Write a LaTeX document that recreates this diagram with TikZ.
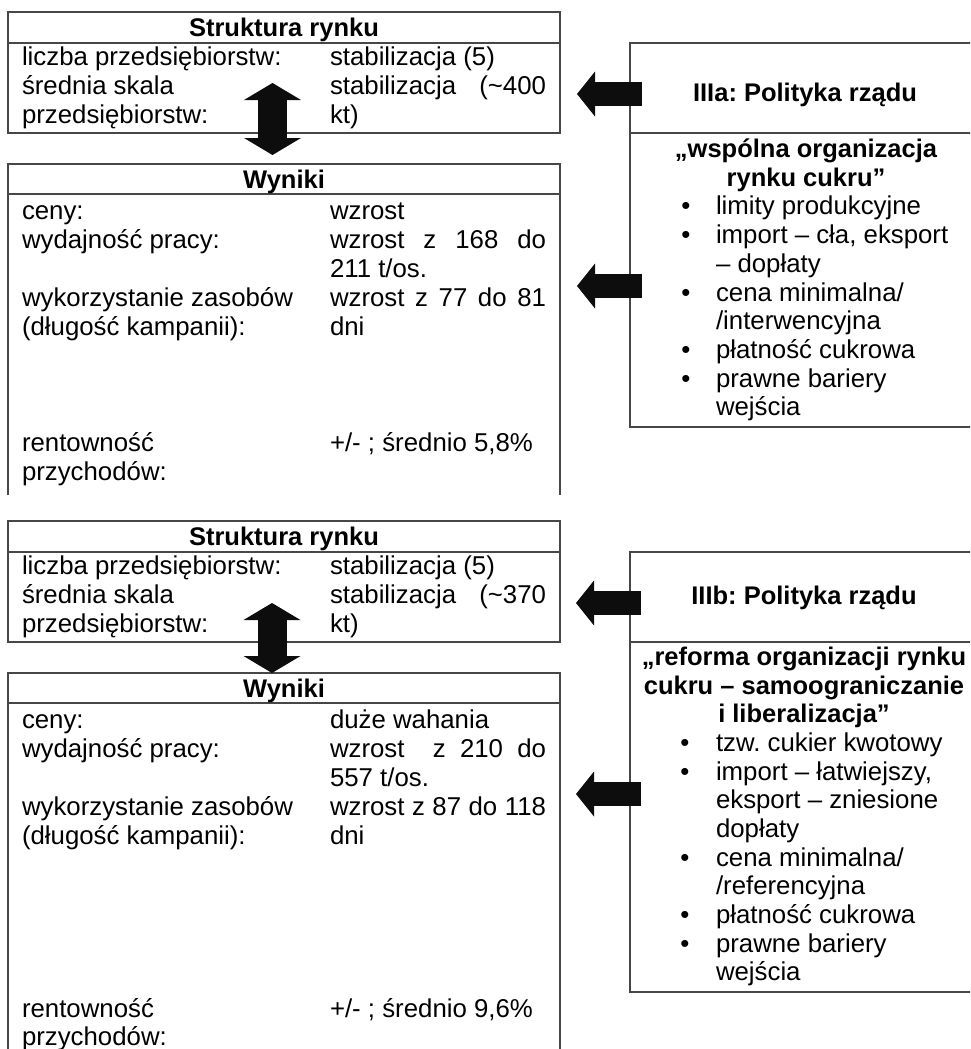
\documentclass[tikz,border=0pt]{standalone}
\usepackage{fontspec}
\setmainfont{Liberation Sans}
\usetikzlibrary{arrows.meta}
\frenchspacing
\begin{document}
\begin{tikzpicture}[x=0.5pt,y=-0.5pt,
  boxline/.style={draw=black!72, line width=0.8pt},
  txt/.style={inner sep=0pt, outer sep=0pt, anchor=base west, font=\fontsize{12.9pt}{15pt}\selectfont\frenchspacing},
  ctr/.style={inner sep=0pt, outer sep=0pt, anchor=base, font=\fontsize{12.75pt}{15pt}\selectfont\bfseries\frenchspacing},
  bul/.style={inner sep=0pt, outer sep=0pt, anchor=base, font=\fontsize{12.9pt}{15pt}\selectfont},
  harrow/.style={line width=12pt, draw=black!95, -{Triangle[width=22.5pt 0 0, length=9pt 0 0, line width=0pt]}},
  varrow/.style={line width=14.5pt, draw=black!95, {Triangle[width=28.5pt 0 0, length=8.5pt 0 0, line width=0pt]}-{Triangle[width=28.5pt 0 0, length=8.5pt 0 0, line width=0pt]}}
]
\useasboundingbox (0,0) rectangle (970,1049);
\clip (0,0) rectangle (970,1049);

% ---------- TOP SECTION ----------
\draw[boxline] (8,12) rectangle (560,133);
\draw[boxline] (8,43) -- (560,43);
\draw[boxline] (8,495) -- (8,164) -- (560,164) -- (560,495);
\draw[boxline] (8,194) -- (560,194);
\draw[boxline] (630,43) rectangle (985,427);
\draw[boxline] (630,133) -- (985,133);

\node[ctr] (s1t) at (284,36) {Struktura rynku};
\node[txt] (s1a) at (22,65) {liczba przedsiębiorstw:};
\node[txt] (s1b) at (330,65) {stabilizacja (5)};
\node[txt] (s1c) at (22,94) {średnia skala};
\node[txt] (s1d) at (330,94) {\makebox[108pt][s]{stabilizacja (\textasciitilde400}};
\node[txt] (s1e) at (22,123) {przedsiębiorstw:};
\node[txt] (s1f) at (330,123) {kt)};

\node[ctr] (w1t) at (284,188) {Wyniki};
\node[txt] (w1a) at (22,219) {ceny:};
\node[txt] (w1b) at (330,219) {wzrost};
\node[txt] (w1c) at (22,248) {wydajność pracy:};
\node[txt] (w1d) at (330,248) {\makebox[108pt][s]{wzrost z 168 do}};
\node[txt] (w1e) at (330,277) {211 t/os.};
\node[txt] (w1f) at (22,306) {wykorzystanie zasobów};
\node[txt] (w1g) at (330,306) {\makebox[108pt][s]{wzrost z 77 do 81}};
\node[txt] (w1h) at (22,335) {(długość kampanii):};
\node[txt] (w1i) at (330,335) {dni};
\node[txt] (w1j) at (22,451) {rentowność};
\node[txt] (w1k) at (330,451) {+/- ; średnio 5,8\%};
\node[txt] (w1l) at (22,480) {przychodów:};

\node[ctr] (p1t) at (805,101) {IIIa: Polityka rządu};
\node[ctr] (p1a) at (806,157) {„wspólna organizacja};
\node[ctr] (p1b) at (806,186) {rynku cukru”};
\node[bul] (p1b1) at (686,214) {•};
\node[txt] (p1c) at (716,214) {limity produkcyjne};
\node[bul] (p1b2) at (686,243) {•};
\node[txt] (p1d) at (716,243) {import – cła, eksport};
\node[txt] (p1e) at (716,272) {– dopłaty};
\node[bul] (p1b3) at (686,301) {•};
\node[txt] (p1f) at (716,301) {cena minimalna/};
\node[txt] (p1g) at (716,329) {/interwencyjna};
\node[bul] (p1b4) at (686,358) {•};
\node[txt] (p1h) at (716,358) {płatność cukrowa};
\node[bul] (p1b5) at (686,387) {•};
\node[txt] (p1i) at (716,387) {prawne bariery};
\node[txt] (p1j) at (716,415) {wejścia};

% ---------- BOTTOM SECTION ----------
\draw[boxline] (8,521) rectangle (560,642);
\draw[boxline] (8,552) -- (560,552);
\draw[boxline] (8,1060) -- (8,673) -- (560,673) -- (560,1060);
\draw[boxline] (8,703) -- (560,703);
\draw[boxline] (630,552) rectangle (985,992);
\draw[boxline] (630,642) -- (985,642);

\node[ctr] (s2t) at (284,545) {Struktura rynku};
\node[txt] (s2a) at (22,574) {liczba przedsiębiorstw:};
\node[txt] (s2b) at (330,574) {stabilizacja (5)};
\node[txt] (s2c) at (22,603) {średnia skala};
\node[txt] (s2d) at (330,603) {\makebox[108pt][s]{stabilizacja (\textasciitilde370}};
\node[txt] (s2e) at (22,632) {przedsiębiorstw:};
\node[txt] (s2f) at (330,632) {kt)};

\node[ctr] (w2t) at (284,697) {Wyniki};
\node[txt] (w2a) at (22,728) {ceny:};
\node[txt] (w2b) at (330,728) {duże wahania};
\node[txt] (w2c) at (22,757) {wydajność pracy:};
\node[txt] (w2d) at (330,757) {\makebox[108pt][s]{wzrost\ \ z 210 do}};
\node[txt] (w2e) at (330,786) {557 t/os.};
\node[txt] (w2f) at (22,815) {wykorzystanie zasobów};
\node[txt] (w2g) at (330,815) {\makebox[108pt][s]{wzrost z 87 do 118}};
\node[txt] (w2h) at (22,844) {(długość kampanii):};
\node[txt] (w2i) at (330,844) {dni};
\node[txt] (w2j) at (22,1017) {rentowność};
\node[txt] (w2k) at (330,1017) {+/- ; średnio 9,6\%};
\node[txt] (w2l) at (22,1045) {przychodów:};

\node[ctr] (p2t) at (804,604) {IIIb: Polityka rządu};
\node[ctr] (p2a) at (804,665) {„reforma organizacji rynku};
\node[ctr] (p2b) at (804,694) {cukru – samoograniczanie};
\node[ctr] (p2c) at (804,722) {i liberalizacja”};
\node[bul] (p2b1) at (685,751) {•};
\node[txt] (p2d) at (716,751) {tzw. cukier kwotowy};
\node[bul] (p2b2) at (685,780) {•};
\node[txt] (p2e) at (716,780) {import – łatwiejszy,};
\node[txt] (p2f) at (716,808) {eksport – zniesione};
\node[txt] (p2g) at (716,837) {dopłaty};
\node[bul] (p2b3) at (685,866) {•};
\node[txt] (p2h) at (716,866) {cena minimalna/};
\node[txt] (p2i) at (716,894) {/referencyjna};
\node[bul] (p2b4) at (685,923) {•};
\node[txt] (p2j) at (716,923) {płatność cukrowa};
\node[bul] (p2b5) at (685,952) {•};
\node[txt] (p2k) at (716,952) {prawne bariery};
\node[txt] (p2l) at (716,980) {wejścia};

% ---------- ARROWS ----------
\coordinate (d1a) at (272.5,83);
\coordinate (d1b) at (272.5,155);
\coordinate (d2a) at (272,603);
\coordinate (d2b) at (272,673);
\coordinate (h1s) at (642,94);
\coordinate (h1e) at (577,94);
\coordinate (h2s) at (642,286);
\coordinate (h2e) at (577,286);
\coordinate (h3s) at (641,603);
\coordinate (h3e) at (576,603);
\coordinate (h4s) at (641,794);
\coordinate (h4e) at (576,794);

\draw[varrow] (d1a) -- (d1b);
\draw[varrow] (d2a) -- (d2b);
\draw[harrow] (h1s) -- (h1e);
\draw[harrow] (h2s) -- (h2e);
\draw[harrow] (h3s) -- (h3e);
\draw[harrow] (h4s) -- (h4e);
\end{tikzpicture}
\end{document}
